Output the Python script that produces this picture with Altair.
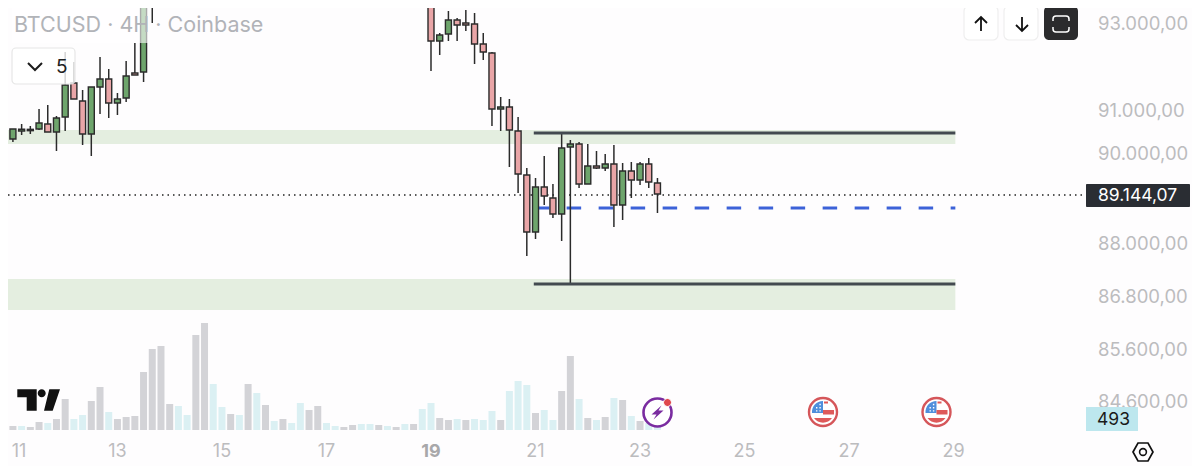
import altair as alt
import pandas as pd

BG = "#fefdfe"
GREEN, RED, EDGE = "#6ea56c", "#e9a5a7", "#2b2b2b"
GRAYVOL, LIGHTVOL = "#d3d3d7", "#dbf0f3"
FONT = "Inter"

candle_idx = list(range(18)) + list(range(48, 76))
opens = [90525, 90413, 90593, 90600, 90638, 90750, 90570, 90908, 91673, 91268, 90525, 91583, 91763, 91223, 91335, 91898, 91920, 93383,
         93800, 93800, 92618, 92775, 93090, 93023, 93000, 92550, 92348, 91088, 91133, 90593, 89603, 88320, 89333, 89085, 88725, 90233,
         90300, 89400, 89805, 89760, 89850, 88928, 89693, 89490, 89850, 89423]
highs = [90525, 90638, 90750, 90705, 91088, 91178, 90930, 92370, 92145, 91515, 91583, 92258, 91988, 91448, 92168, 92573, 93383, 93700,
         93900, 93900, 92798, 93293, 93135, 93315, 93248, 92798, 92370, 91358, 91313, 90908, 89760, 89535, 90030, 89400, 90525, 90390,
         90345, 90300, 90143, 90075, 90278, 89873, 89895, 89895, 89985, 89535]
lows = [90278, 90345, 90503, 90525, 90615, 90570, 90143, 90593, 91313, 90278, 90030, 90975, 90885, 90953, 91245, 91853, 91695, 93023,
        93473, 91943, 92303, 92618, 92618, 92843, 92100, 92190, 90705, 90593, 89783, 89198, 87780, 88163, 88928, 88635, 88118, 87173,
        89310, 89400, 89738, 89693, 88433, 88590, 89085, 89378, 89310, 88748]
closes = [90413, 90638, 90633, 90630, 90773, 90570, 90885, 91628, 91313, 90525, 91583, 91763, 91223, 91313, 91830, 91853, 93383, 93540,
          93560, 92618, 92753, 93090, 92978, 92978, 92550, 92370, 91088, 91133, 90615, 89625, 88320, 89333, 89130, 88725, 90210, 90300,
          89400, 89805, 89760, 89850, 88928, 89693, 89490, 89850, 89445, 89175]

vol_first = [5, 4, 4, 3, 8, 7, 11, 31, 11, 15, 29, 43, 18, 11, 13, 14, 58, 81, 84, 26, 24, 15, 95, 107, 46, 23, 16, 15, 46, 37, 25, 9, 11, 7, 27, 20, 24, 7, 4]
vol_second = [3, 5, 6, 6, 5, 4, 3, 6, 6, 21, 27, 12, 10, 11, 10, 11, 10, 19, 10, 39, 49, 45, 17, 20, 10, 39, 74, 31, 12, 10, 13, 32, 30, 14, 9, 7, 4]
volumes = vol_first + vol_second
vol_light = [0, 2, 5, 8, 9, 12, 20, 21, 24, 25, 27, 29, 31, 33, 34, 37, 38, 41, 42, 44, 46, 48, 49, 52, 54, 55, 56, 58, 59, 60, 62, 63, 66, 68, 70, 72, 74, 75]

zones = [(90615, 90300), (87263, 86565)]
range_lines = [90548, 87150]
blue_level = 88860
last_level = 89153

price_text = ["93.000,00", "91.000,00", "90.000,00", "88.000,00", "86.800,00", "85.600,00", "84.600,00"]
price_pos = [93000, 91043, 90075, 88050, 86858, 85665, 84495]
day_text = ["11", "13", "15", "17", "19", "21", "23", "25", "27", "29"]
day_pos = [1.7, 13, 25, 37, 49, 61, 73, 85, 97, 109]

W, H = 1184, 458
xs = alt.Scale(domain=[0.436, 136.37], nice=False, zero=False, padding=0)
ys = alt.Scale(domain=[83055, 93360], nice=False, zero=False)
vs = alt.Scale(domain=[-36, 422], nice=False, zero=False)
X = lambda f: alt.X(f, type="quantitative", scale=xs, axis=None)
Y = lambda f: alt.Y(f, type="quantitative", scale=ys, axis=None)

candles = pd.DataFrame({"i": candle_idx, "o": opens, "h": highs, "l": lows, "c": closes})
candles["top"] = candles[["o", "c"]].max(axis=1)
candles["bot"] = candles[["o", "c"]].min(axis=1)
up = candles[candles.c >= candles.o]
down = candles[candles.c < candles.o]
vol = pd.DataFrame({"i": range(len(volumes)), "v": volumes, "base": 0})
vol["light"] = vol.i.isin(vol_light)

one = pd.DataFrame({"a": [0]})
layers = []

def box(x0, x1, y0, y1, **kw):
    return alt.Chart(one).mark_rect(**kw).encode(
        x=alt.value(x0 - 8), x2=alt.value(x1 - 8), y=alt.value(y0 - 8), y2=alt.value(y1 - 8))

def icon(path, cx, cy, filled=True, **kw):
    return alt.Chart(one).mark_point(shape=path, size=4, filled=filled, opacity=1, **kw).encode(
        x=alt.value(cx - 8), y=alt.value(cy - 8))

def label(text, x, y, **kw):
    kw.setdefault("font", FONT)
    kw.setdefault("align", "left")
    kw.setdefault("baseline", "middle")
    return alt.Chart(pd.DataFrame({"t": [text]})).mark_text(**kw).encode(
        x=alt.value(x - 8), y=alt.value(y - 8), text="t:N")

# zones
zdf = pd.DataFrame({"a": [0.436, 0.436], "b": [109.2, 109.2], "t": [z[0] for z in zones], "u": [z[1] for z in zones]})
layers.append(alt.Chart(zdf).mark_rect(color="#e4eee0").encode(x=X("a"), x2="b", y=Y("t"), y2="u"))

# last price dotted
layers.append(alt.Chart(pd.DataFrame({"a": [0.436], "b": [124.2], "y": [last_level]})).mark_rule(
    color="#222", strokeWidth=1.5, strokeDash=[1.5, 4]).encode(x=X("a"), x2="b", y=Y("y")))
# blue dashed
layers.append(alt.Chart(pd.DataFrame({"a": [60.9], "b": [109.2], "y": [blue_level]})).mark_rule(
    color="#3c62d8", strokeWidth=2.8, strokeDash=[14.5, 17.5]).encode(x=X("a"), x2="b", y=Y("y")))

# volumes
for flag, col in [(True, LIGHTVOL), (False, GRAYVOL)]:
    layers.append(alt.Chart(vol[vol.light == flag]).mark_bar(size=7, color=col).encode(
        x=X("i"), y=alt.Y("v:Q", scale=vs, axis=None), y2="base"))

# candles
layers.append(alt.Chart(candles).mark_rule(color=EDGE, strokeWidth=1.5).encode(x=X("i"), y=Y("h"), y2="l"))
for frame, col in [(up, GREEN), (down, RED)]:
    layers.append(alt.Chart(frame).mark_bar(size=6, color=col, stroke=EDGE, strokeWidth=1.4).encode(
        x=X("i"), y=Y("top"), y2="bot"))

# range lines
layers.append(alt.Chart(pd.DataFrame({"a": [60.8, 60.8], "b": [109.2, 109.2], "y": range_lines})).mark_rule(
    color="#434a50", strokeWidth=3).encode(x=X("a"), x2="b", y=Y("y")))

# price axis
layers.append(alt.Chart(pd.DataFrame({"y": price_pos, "t": price_text})).mark_text(
    align="left", baseline="middle", font=FONT, fontSize=18.5, color="#bcbcbe").encode(
    x=alt.value(1098 - 8), y=Y("y"), text="t:N"))
# day axis
day_df = pd.DataFrame({"x": day_pos, "t": day_text})
layers.append(alt.Chart(day_df[day_df.t != "19"]).mark_text(
    align="center", baseline="middle", font=FONT, fontSize=18, color="#bcbcbe").encode(
    x=X("x"), y=alt.value(452 - 8), text="t:N"))
layers.append(alt.Chart(day_df[day_df.t == "19"]).mark_text(
    align="center", baseline="middle", font=FONT, fontSize=18, fontWeight="bold", color="#a8a8aa").encode(
    x=X("x"), y=alt.value(452 - 8), text="t:N"))

# legend overlay
layers.append(box(12, 148, 8, 43, color="white", opacity=0.6))
layers.append(label("BTCUSD · 4H · Coinbase", 14, 25.5, fontSize=21.5, color="#b1b3b8"))
layers.append(box(12, 75, 48, 84, fill="white", fillOpacity=0.8, stroke="#e6e6e6", strokeWidth=1.2, cornerRadius=4))
layers.append(icon("M-7 -3 L0 4 L7 -3", 35, 66, filled=False, stroke="#1c1c1c", strokeWidth=2))
layers.append(label("5", 56, 67, fontSize=19, color="#222"))

# buttons
layers.append(box(964, 998, 6, 40, fill="white", stroke="#eeeeee", strokeWidth=1.2, cornerRadius=5))
layers.append(box(1004, 1038, 6, 40, fill="white", stroke="#eeeeee", strokeWidth=1.2, cornerRadius=5))
layers.append(box(1044, 1078, 6, 40, fill="#2b2b2d", cornerRadius=5))
layers.append(icon("M0 -7 V7 M-6 -1 L0 -7 L6 -1", 981, 24, filled=False, stroke="#111", strokeWidth=1.8))
layers.append(icon("M0 -7 V7 M-6 1 L0 7 L6 1", 1022, 24, filled=False, stroke="#111", strokeWidth=1.8))
layers.append(icon("M-8 -3 V-5 Q-8 -8 -5 -8 H5 Q8 -8 8 -5 V-3 M-8 3 V5 Q-8 8 -5 8 H5 Q8 8 8 5 V3", 1061, 24,
                   filled=False, stroke="white", strokeWidth=1.5))

# price tags
layers.append(box(1086, 1190, 184, 207, color="#2a2d33", cornerRadius=1))
layers.append(label("89.144,07", 1098, 196, fontSize=17.5, color="white"))
layers.append(box(1086, 1138, 407, 431, color="#bde7ee"))
layers.append(label("493", 1097, 420, fontSize=17.5, color="#1a1a1a"))

# TradingView logo
layers.append(icon("M-21.4 -10.7 H-2 V10.7 H-12 V-2.7 H-21.4 Z "
                   "M-1 -6.7 a4 4 0 1 0 8 0 a4 4 0 1 0 -8 0 Z "
                   "M10.6 -10.7 H21.3 L14 10.7 H5.3 Z", 38.7, 400, fill="#111"))

# bolt
CIRC = "M-14 0 a14 14 0 1 0 28 0 a14 14 0 1 0 -28 0 Z"
layers.append(icon(CIRC, 657.5, 412.5, fill="white", stroke="#7a2ca0", strokeWidth=2.6))
layers.append(icon("M4 -7 L-6 2 H-1 L-4 7 L6 -2 H1 Z", 657.5, 412.5, fill="#7a2ca0"))
layers.append(icon("M-4 0 a4 4 0 1 0 8 0 a4 4 0 1 0 -8 0 Z", 667.5, 402.5, fill="#e0484d", stroke="white", strokeWidth=1))

# flags
for cx in (823, 936.5):
    layers.append(icon(CIRC, cx, 412, fill="white", stroke="#d5565a", strokeWidth=2.4))
    layers.append(icon("M-11 1 A11 11 0 0 1 0 -11 V1 Z", cx, 412, fill="#4f8fdc"))
    layers.append(icon("M0 -2 H11 V2.5 H0 Z M-9 6 H9 A11 11 0 0 1 -9 6 Z M1 -10.5 H5 V-8.5 H1 Z", cx, 412, fill="#de5a5a"))
    layers.append(icon("M-7 -5 h1.4 v1.4 h-1.4 Z M-3.6 -5 h1.4 v1.4 h-1.4 Z M-3.6 -8.2 h1.4 v1.4 h-1.4 Z "
                       "M-7 -1.8 h1.4 v1.4 h-1.4 Z M-3.6 -1.8 h1.4 v1.4 h-1.4 Z", cx, 412, fill="white"))

# settings hexagon
layers.append(icon("M-10 0 L-5 -9 H5 L10 0 L5 9 H-5 Z", 1143, 452, filled=False, stroke="#111", strokeWidth=1.7))
layers.append(icon("M-3.4 0 a3.4 3.4 0 1 0 6.8 0 a3.4 3.4 0 1 0 -6.8 0 Z", 1143, 452, filled=False, stroke="#111", strokeWidth=1.6))

chart = alt.layer(*layers).resolve_scale(y="independent").properties(
    width=W, height=H, padding=0, background=BG,
    autosize=alt.AutoSizeParams(type="none"),
).configure_view(stroke=None)

chart.save("out.html", embed_options={"renderer": "svg", "actions": False})
